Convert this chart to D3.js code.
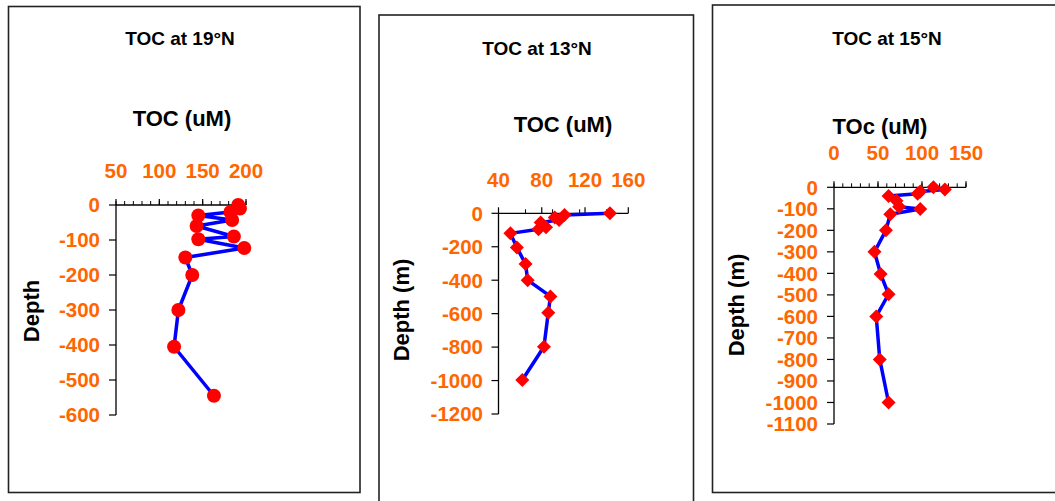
<!DOCTYPE html>
<html>
<head>
<meta charset="utf-8">
<script src="https://cdn.jsdelivr.net/npm/d3@7"></script>
<style>
  html, body { margin: 0; padding: 0; background: #fff; }
  svg { display: block; font-family: "Liberation Sans", Arial, sans-serif; font-weight: bold; }
</style>
</head>
<body>
<svg id="chart" width="1055" height="501"></svg>
<script>
// TOC depth profiles at three stations
const depth19 = [0, -10, -20, -30, -43, -60, -90, -98, -123, -150, -200, -300, -405, -545];
const toc19   = [191, 193, 182, 145, 184, 143, 186, 145, 198, 130, 138, 122, 117, 163];

const depth13 = [0, -10, -25, -40, -55, -84, -95, -120, -205, -303, -400, -497, -595, -798, -997];
const toc13   = [143, 101, 92, 96, 79, 84, 77, 51, 57, 65, 67, 88, 86, 82, 62];

const depth15 = [0, -10, -20, -30, -40, -62, -90, -101, -125, -200, -300, -403, -497, -600, -800, -1000];
const toc15   = [113, 126, 98, 95, 62, 71, 74, 98, 64, 59, 46, 53, 62, 48, 52, 62];

// tick labels
const xTicks19 = [50, 100, 150, 200];
const yTicks19 = [0, -100, -200, -300, -400, -500, -600];
const xTicks13 = [40, 80, 120, 160];
const yTicks13 = [0, -200, -400, -600, -800, -1000, -1200];
const xTicks15 = [0, 50, 100, 150];
const yTicks15 = [0, -100, -200, -300, -400, -500, -600, -700, -800, -900, -1000, -1100];

const ORANGE = "#FF6600";
const svg = d3.select("#chart");

const panels = [
  {
    frame: [8.5, 6.5, 351.5, 486], title: "TOC at 19°N", titleX: 180, titleY: 45,
    xTitle: "TOC (uM)", xTitleX: 182, xTitleY: 126,
    yTitle: "Depth", yTitleX: 39, yTitleY: 311,
    xDom: [50, 200], xRange: [116, 246], yDom: [0, -600], yRange: [205, 415],
    xTicks: xTicks19, xMinor: d3.range(50, 201, 10), yTicks: yTicks19,
    xLabelY: 177.5, yLabelX: 100,
    toc: toc19, depth: depth19, marker: "circle"
  },
  {
    frame: [379, 15, 314.5, 510], title: "TOC at 13°N", titleX: 537, titleY: 55,
    xTitle: "TOC (uM)", xTitleX: 563, xTitleY: 132,
    yTitle: "Depth (m)", yTitleX: 409, yTitleY: 310,
    xDom: [40, 160], xRange: [498.5, 628.3], yDom: [0, -1200], yRange: [213.3, 414],
    xTicks: xTicks13, xMinor: [65, 90, 115, 140], yTicks: yTicks13,
    xLabelY: 187, yLabelX: 483,
    toc: toc13, depth: depth13, marker: "diamond"
  },
  {
    frame: [712.5, 5, 360, 487.5], title: "TOC at 15°N", titleX: 887, titleY: 45,
    xTitle: "TOc (uM)", xTitleX: 880, xTitleY: 134,
    yTitle: "Depth (m)", yTitleX: 744, yTitleY: 305,
    xDom: [0, 150], xRange: [834, 966], yDom: [0, -1100], yRange: [187.3, 424],
    xTicks: xTicks15, xMinor: d3.range(0, 151, 10), yTicks: yTicks15,
    xLabelY: 160, yLabelX: 818,
    toc: toc15, depth: depth15, marker: "diamond"
  }
];

panels.forEach(p => {
  const g = svg.append("g");
  const [fx, fy, fw, fh] = p.frame;
  g.append("rect").attr("x", fx).attr("y", fy).attr("width", fw).attr("height", fh)
    .attr("fill", "none").attr("stroke", "#222").attr("stroke-width", 1.6);

  g.append("text").attr("x", p.titleX).attr("y", p.titleY).attr("text-anchor", "middle")
    .attr("font-size", 19).attr("fill", "#000").text(p.title);
  g.append("text").attr("x", p.xTitleX).attr("y", p.xTitleY).attr("text-anchor", "middle")
    .attr("font-size", 22).attr("fill", "#000").text(p.xTitle);
  g.append("text").attr("transform", `translate(${p.yTitleX},${p.yTitleY}) rotate(-90)`)
    .attr("text-anchor", "middle").attr("font-size", 22).attr("fill", "#000").text(p.yTitle);

  const x = d3.scaleLinear().domain(p.xDom).range(p.xRange);
  const y = d3.scaleLinear().domain(p.yDom).range(p.yRange);
  const y0 = y(0), x0 = p.xRange[0];

  // top axis: minor ticks above the line, major ticks a bit longer
  const xAxis = g.append("g").attr("transform", `translate(0,${y0})`);
  xAxis.append("line").attr("x1", p.xRange[0]).attr("x2", p.xRange[1])
    .attr("stroke", "#000").attr("stroke-width", 1.3);
  xAxis.selectAll("line.minor").data(p.xMinor).join("line").attr("class", "minor")
    .attr("x1", d => x(d)).attr("x2", d => x(d)).attr("y1", -4).attr("y2", 0)
    .attr("stroke", "#000").attr("stroke-width", 1);
  xAxis.selectAll("line.major").data(p.xTicks).join("line").attr("class", "major")
    .attr("x1", d => x(d)).attr("x2", d => x(d)).attr("y1", -6).attr("y2", 0)
    .attr("stroke", "#000").attr("stroke-width", 1.2);
  g.selectAll("text.xl").data(p.xTicks).join("text").attr("class", "xl")
    .attr("x", d => x(d)).attr("y", p.xLabelY).attr("text-anchor", "middle")
    .attr("font-size", 20.5).attr("fill", ORANGE).text(d => d);

  // left axis
  const yAxis = g.append("g").attr("transform", `translate(${x0},0)`);
  yAxis.append("line").attr("y1", y0).attr("y2", y(p.yTicks[p.yTicks.length - 1]))
    .attr("stroke", "#000").attr("stroke-width", 1.3);
  yAxis.selectAll("line.yt").data(p.yTicks).join("line").attr("class", "yt")
    .attr("x1", -7).attr("x2", 0).attr("y1", d => y(d)).attr("y2", d => y(d))
    .attr("stroke", "#000").attr("stroke-width", 1.2);
  g.selectAll("text.yl").data(p.yTicks).join("text").attr("class", "yl")
    .attr("x", p.yLabelX).attr("y", d => y(d)).attr("dy", "0.36em").attr("text-anchor", "end")
    .attr("font-size", 20.5).attr("fill", ORANGE).text(d => d);

  // profile line and markers
  const pts = p.toc.map((v, i) => [v, p.depth[i]]);
  g.append("path").datum(pts)
    .attr("d", d3.line().x(d => x(d[0])).y(d => y(d[1])))
    .attr("fill", "none").attr("stroke", "#0000FF").attr("stroke-width", 3.5)
    .attr("stroke-linejoin", "round");
  if (p.marker === "circle") {
    g.selectAll("circle.m").data(pts).join("circle").attr("class", "m")
      .attr("cx", d => x(d[0])).attr("cy", d => y(d[1])).attr("r", 7).attr("fill", "#FF0000");
  } else {
    const r = 7;
    g.selectAll("path.m").data(pts).join("path").attr("class", "m")
      .attr("d", d => {
        const cx = x(d[0]), cy = y(d[1]);
        return `M${cx},${cy - r}L${cx + r},${cy}L${cx},${cy + r}L${cx - r},${cy}Z`;
      })
      .attr("fill", "#FF0000");
  }
});
</script>
</body>
</html>
